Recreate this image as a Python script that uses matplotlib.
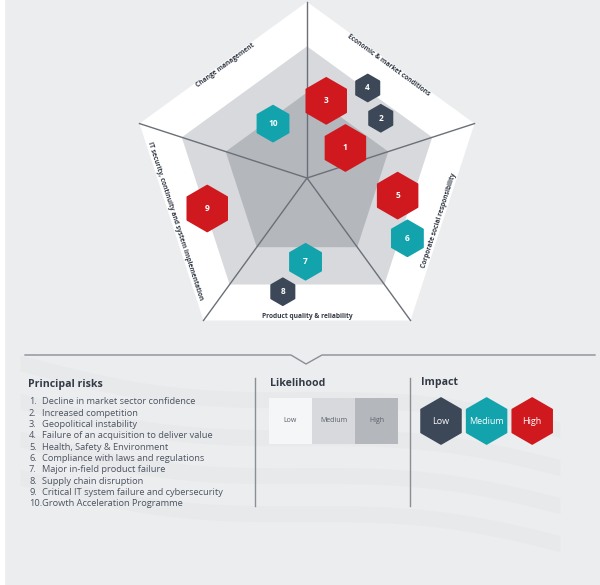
import numpy as np
import matplotlib.pyplot as plt
from matplotlib.patches import Polygon, RegularPolygon, Rectangle

plt.rcParams['font.family'] = ['Open Sans', 'DejaVu Sans']

# Radar categories (clockwise from top, label sits on outer edge)
categories = ["Economic & market conditions", "Corporate social responsibility",
              "Product quality & reliability",
              "IT security, continuity and system implementation", "Change management"]

# Principal risks: angle clockwise from top [deg], distance from centre (outer ring = 1), impact
risk_ids = [1, 2, 3, 4, 5, 6, 7, 8, 9, 10]
risk_angle = [52, 51, 14, 34, 101, 121, 181, 192, 253, 328]
risk_dist = [0.285, 0.555, 0.465, 0.635, 0.54, 0.685, 0.49, 0.68, 0.61, 0.375]
risk_impact = ["High", "Low", "High", "Low", "High", "Medium", "Medium", "Low", "High", "Medium"]

risk_names = ["Decline in market sector confidence", "Increased competition",
              "Geopolitical instability", "Failure of an acquisition to deliver value",
              "Health, Safety & Environment", "Compliance with laws and regulations",
              "Major in-field product failure", "Supply chain disruption",
              "Critical IT system failure and cybersecurity", "Growth Acceleration Programme"]

likelihood_levels = ["Low", "Medium", "High"]
impact_levels = ["Low", "Medium", "High"]

# Styles
bg = "#ecedef"
ring_colors = {"Low": "#ffffff", "Medium": "#d7d9dc", "High": "#b4b8bd"}
ring_radius = {"Low": 1.03, "Medium": 0.77, "High": 0.5}
box_colors = {"Low": "#f5f6f7", "Medium": "#d7d9dc", "High": "#b4b8bd"}
impact_colors = {"Low": "#3c4858", "Medium": "#13a3ad", "High": "#d0191f"}
hex_size = {"Low": 13.5, "Medium": 18, "High": 23}
text_dark = "#333a46"
text_grey = "#4d5461"

cx, cy, R = 307, 178, 171

def polar(angle, dist):
    a = np.radians(angle)
    return cx + R * dist * np.sin(a), cy - R * dist * np.cos(a)

fig = plt.figure(figsize=(6, 5.85), dpi=100)
ax = fig.add_axes([0, 0, 1, 1])
ax.set_xlim(0, 600)
ax.set_ylim(585, 0)
ax.axis("off")
fig.patch.set_facecolor(bg)
ax.add_patch(Rectangle((0, 0), 4, 585, color="white", zorder=0))

# faint waving bands in the background
xs = np.linspace(20, 560, 200)
for off in [0, 38, 76, 114]:
    y0 = 355 + off + 70 * (xs - 20) / 540 + 12 * np.sin((xs - 20) / 90.0)
    ax.fill_between(xs, y0, y0 + 16, color="#e2e5e8", alpha=0.45, lw=0, zorder=0)

# pentagon rings
vert_angles = np.arange(5) * 72
for lvl in likelihood_levels:
    pts = [polar(a, ring_radius[lvl]) for a in vert_angles]
    ax.add_patch(Polygon(pts, closed=True, facecolor=ring_colors[lvl],
                         edgecolor="none", zorder=1))
for a in vert_angles:
    x1, y1 = polar(a, ring_radius["Low"])
    ax.plot([cx, x1], [cy, y1], color="#6b7078", lw=1.0, zorder=2)

# category labels along the outer edges
for i, name in enumerate(categories):
    a0, a1 = vert_angles[i], vert_angles[i] + 72
    p0 = np.array(polar(a0, 1.0))
    p1 = np.array(polar(a1, 1.0))
    mid = (p0 + p1) / 2
    normal = mid - np.array([cx, cy])
    normal /= np.linalg.norm(normal)
    pos = mid + normal * 0.5
    rot = np.degrees(np.arctan2(-(p1[1] - p0[1]), p1[0] - p0[0]))
    if rot > 90:
        rot -= 180
    elif rot < -90:
        rot += 180
    ax.text(pos[0], pos[1], name, rotation=rot, ha="center", va="center",
            fontsize=4.8, color=text_dark, fontweight="bold",
            rotation_mode="anchor", zorder=3)

# risk hexagons
for rid, ang, d, imp in zip(risk_ids, risk_angle, risk_dist, risk_impact):
    x, y = polar(ang, d)
    ax.add_patch(RegularPolygon((x, y), 6, radius=hex_size[imp],
                                facecolor=impact_colors[imp], edgecolor=impact_colors[imp],
                                lw=1.2, joinstyle="round", zorder=4))
    ax.text(x, y, str(rid), color="white", fontsize=6, fontweight="bold",
            ha="center", va="center", zorder=5)

# separator with notch
ax.plot([25, 291, 306, 322, 595], [355, 355, 364, 355, 355], color="#8a8f96", lw=1.0)
for xv in [255, 409.5]:
    ax.plot([xv, xv], [378, 506], color="#8a8f96", lw=1.0)

# principal risks list
ax.text(28, 385, "Principal risks", fontsize=7.6, fontweight="bold",
        color=text_dark, ha="left", va="center")
for i, name in enumerate(risk_names):
    y = 402 + i * 11.3
    ax.text(29, y, f"{i + 1}.", fontsize=6.7, color=text_grey, ha="left", va="center")
    ax.text(41.5, y, name, fontsize=6.7, color=text_grey, ha="left", va="center")

# likelihood legend
ax.text(270, 383, "Likelihood", fontsize=7.6, fontweight="bold",
        color=text_dark, ha="left", va="center")
box_w = 43
for i, lvl in enumerate(likelihood_levels):
    x0 = 269 + i * box_w
    ax.add_patch(Rectangle((x0, 398), box_w, 46, facecolor=box_colors[lvl], edgecolor="none"))
    ax.text(x0 + box_w / 2, 421, lvl, fontsize=5, color="#5a606a",
            ha="center", va="center")

# impact legend
ax.text(421, 383, "Impact", fontsize=7.6, fontweight="bold",
        color=text_dark, ha="left", va="center")
for i, lvl in enumerate(impact_levels):
    x = 441 + i * 45.6
    ax.add_patch(RegularPolygon((x, 421), 6, radius=23, facecolor=impact_colors[lvl],
                                edgecolor=impact_colors[lvl], lw=1.2, joinstyle="round"))
    ax.text(x, 421, lvl, fontsize=6.5, color="white", ha="center", va="center")

fig.savefig("out.png", dpi=100, facecolor=bg)
